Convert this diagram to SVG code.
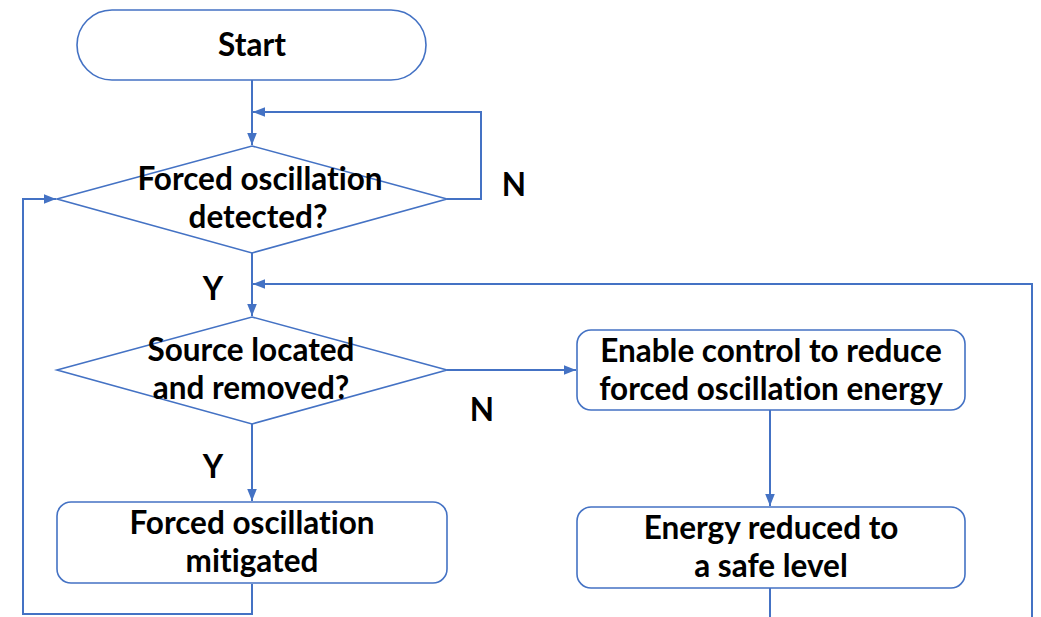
<svg xmlns="http://www.w3.org/2000/svg" width="1041" height="617" viewBox="0 0 1041 617">
<style>
.s{fill:#fff;stroke:#4472C4;stroke-width:1.6}
.c{fill:none;stroke:#4472C4;stroke-width:2}
.t{font-family:Lato,"Open Sans",sans-serif;font-weight:bold;font-size:31.5px;fill:#000;text-anchor:middle;font-variant-ligatures:none;font-feature-settings:"liga" 0,"dlig" 0}
</style>
<defs>
<marker id="ah" viewBox="0 0 10 10" refX="10" refY="5" markerWidth="12" markerHeight="12" orient="auto" markerUnits="userSpaceOnUse"><path d="M0,1 L10,5 L0,9 Z" fill="#4472C4"/></marker>
</defs>
<rect width="1041" height="617" fill="#fff"/>
<g id="connectors">
<path class="c" d="M252,80 V145" marker-end="url(#ah)"/>
<path class="c" d="M447,199 H481 V112 H253" marker-end="url(#ah)"/>
<path class="c" d="M252,253 V316" marker-end="url(#ah)"/>
<path class="c" d="M1032,617 V284 H253" marker-end="url(#ah)"/>
<path class="c" d="M447,370 H576" marker-end="url(#ah)"/>
<path class="c" d="M252,424 V501" marker-end="url(#ah)"/>
<path class="c" d="M252,584 V614 H23 V199 H56" marker-end="url(#ah)"/>
<path class="c" d="M770,410 V506" marker-end="url(#ah)"/>
<path class="c" d="M770,588 V617"/>
</g>
<g id="start">
<rect class="s" x="77" y="10" width="349" height="70" rx="35" ry="35"/>
<text class="t" x="252" y="56">Start</text>
</g>
<g id="detected">
<path class="s" d="M252,146 L447,199 L252,253 L57,199 Z"/>
<text class="t" x="260" y="190">Forced oscillation</text>
<text class="t" x="258" y="228">detected?</text>
</g>
<g id="located">
<path class="s" d="M252,317 L447,370 L252,424 L57,370 Z"/>
<text class="t" x="251" y="361">Source located</text>
<text class="t" x="251" y="399">and removed?</text>
</g>
<g id="mitigated">
<rect class="s" x="57" y="502" width="390" height="81" rx="14"/>
<text class="t" x="252" y="534">Forced oscillation</text>
<text class="t" x="252" y="572">mitigated</text>
</g>
<g id="enable">
<rect class="s" x="577" y="330" width="388" height="80" rx="14"/>
<text class="t" x="771" y="362">Enable control to reduce</text>
<text class="t" x="771" y="400">forced oscillation energy</text>
</g>
<g id="energy">
<rect class="s" x="577" y="507" width="388" height="81" rx="14"/>
<text class="t" x="771" y="539">Energy reduced to</text>
<text class="t" x="771" y="577">a safe level</text>
</g>
<g id="labels">
<text class="t" x="514" y="196">N</text>
<text class="t" x="482" y="421">N</text>
<text class="t" x="213" y="300">Y</text>
<text class="t" x="213" y="478">Y</text>
</g>
</svg>
